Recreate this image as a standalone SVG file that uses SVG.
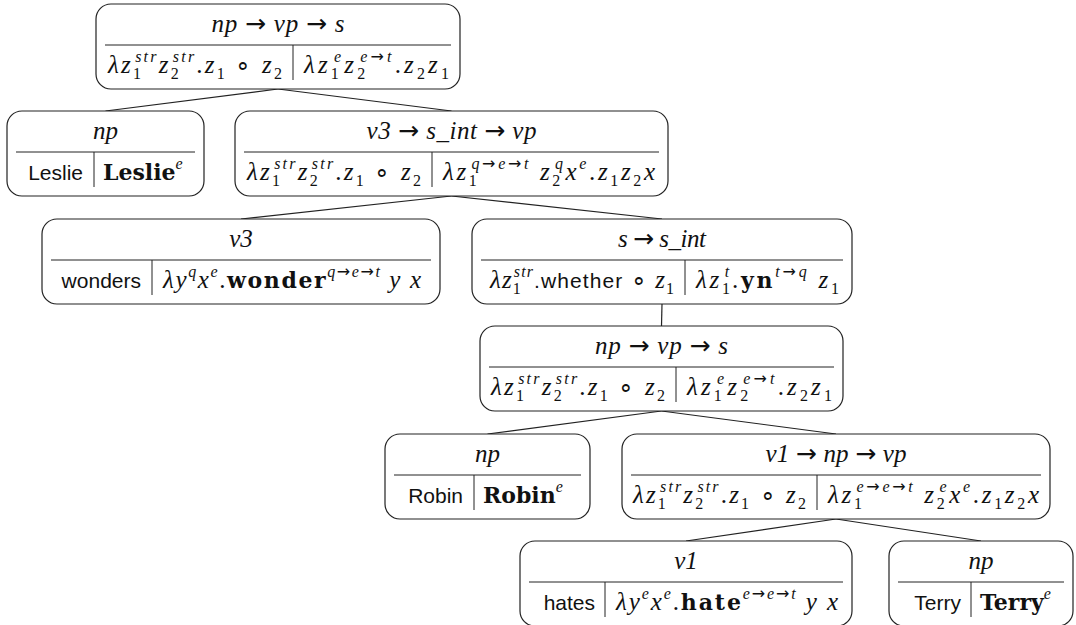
<svg xmlns="http://www.w3.org/2000/svg" width="1076" height="625" viewBox="0 0 1076 625">
<style>
text { font-family: "Liberation Serif", serif; font-size: 25px; fill: #111; }
.i { font-style: italic; }
.n { font-style: normal; }
.b { font-family: "DejaVu Serif", serif; font-weight: bold; font-style: normal; font-size: 22px; }
.sc { font-size: 16px; }
.ar { font-family: "DejaVu Sans", sans-serif; font-style: normal; }
.sf { font-family: "Liberation Sans", sans-serif; font-size: 21px; font-style: normal; }
.box { fill: #fff; stroke: #222; stroke-width: 1.2; }
.rule { stroke: #222; stroke-width: 1; }
.edge { stroke: #222; stroke-width: 1.2; fill: none; }
</style>
<rect width="1076" height="625" fill="#fff"/>
<g id="connectors">
<line class="edge" x1="278" y1="89" x2="105.5" y2="111"/>
<line class="edge" x1="278" y1="89" x2="451.5" y2="111"/>
<line class="edge" x1="451.5" y1="196" x2="241" y2="219"/>
<line class="edge" x1="451.5" y1="196" x2="662" y2="219"/>
<line class="edge" x1="662" y1="304" x2="661.5" y2="326"/>
<line class="edge" x1="661.5" y1="411" x2="487.5" y2="434"/>
<line class="edge" x1="661.5" y1="411" x2="836" y2="434"/>
<line class="edge" x1="836" y1="519" x2="686" y2="541"/>
<line class="edge" x1="836" y1="519" x2="981" y2="541"/>
</g>

<g id="root">
<rect class="box" x="96" y="4" width="364" height="85" rx="15"/>
<line class="rule" x1="105" y1="45" x2="451" y2="45"/>
<line class="rule" x1="293" y1="45" x2="293" y2="80"/>
<text x="278" y="32" text-anchor="middle" textLength="133" lengthAdjust="spacing"><tspan class="i">np</tspan> <tspan class="ar">→</tspan> <tspan class="i">vp</tspan> <tspan class="ar">→</tspan> <tspan class="i">s</tspan></text>
<text x="282" y="72.5" text-anchor="end" class="i" textLength="174" lengthAdjust="spacing">λz<tspan class="sc n" dy="6">1</tspan><tspan class="sc" dx="-8" dy="-17">str</tspan><tspan dy="11">z</tspan><tspan class="sc n" dy="6">2</tspan><tspan class="sc" dx="-8" dy="-17">str</tspan><tspan class="n" dy="11">.</tspan>z<tspan class="sc n" dy="6">1</tspan><tspan class="n" dy="-6"> ∘ </tspan>z<tspan class="sc n" dy="6">2</tspan></text>
<text x="304" y="72.5" class="i" textLength="145" lengthAdjust="spacing">λz<tspan class="sc n" dy="6">1</tspan><tspan class="sc" dx="-8" dy="-17">e</tspan><tspan dy="11">z</tspan><tspan class="sc n" dy="6">2</tspan><tspan class="sc" dx="-8" dy="-17">e<tspan class="ar">→</tspan>t</tspan><tspan class="n" dy="11">.</tspan>z<tspan class="sc n" dy="6">2</tspan><tspan dy="-6">z</tspan><tspan class="sc n" dy="6">1</tspan></text>
</g>

<g id="leslie">
<rect class="box" x="7" y="111" width="197" height="85" rx="15"/>
<line class="rule" x1="16" y1="152" x2="195" y2="152"/>
<line class="rule" x1="94" y1="152" x2="94" y2="187"/>
<text x="105.5" y="139" text-anchor="middle" class="i">np</text>
<text x="83" y="179.5" text-anchor="end" class="sf">Leslie</text>
<text x="103" y="179.5"><tspan class="b">Leslie</tspan><tspan class="sc i" dy="-11">e</tspan></text>
</g>

<g id="v3_sint_vp">
<rect class="box" x="235" y="111" width="433" height="85" rx="15"/>
<line class="rule" x1="244" y1="152" x2="659" y2="152"/>
<line class="rule" x1="432" y1="152" x2="432" y2="187"/>
<text x="451.5" y="139" text-anchor="middle" class="i" textLength="170" lengthAdjust="spacing">v3 <tspan class="ar">→</tspan> s_int <tspan class="ar">→</tspan> vp</text>
<text x="421" y="179.5" text-anchor="end" class="i" textLength="174" lengthAdjust="spacing">λz<tspan class="sc n" dy="6">1</tspan><tspan class="sc" dx="-8" dy="-17">str</tspan><tspan dy="11">z</tspan><tspan class="sc n" dy="6">2</tspan><tspan class="sc" dx="-8" dy="-17">str</tspan><tspan class="n" dy="11">.</tspan>z<tspan class="sc n" dy="6">1</tspan><tspan class="n" dy="-6"> ∘ </tspan>z<tspan class="sc n" dy="6">2</tspan></text>
<text x="443" y="179.5" class="i" textLength="212" lengthAdjust="spacing">λz<tspan class="sc n" dy="6">1</tspan><tspan class="sc" dx="-8" dy="-17">q<tspan class="ar">→</tspan>e<tspan class="ar">→</tspan>t</tspan><tspan dy="11"> z</tspan><tspan class="sc n" dy="6">2</tspan><tspan class="sc" dx="-8" dy="-17">q</tspan><tspan dy="11">x</tspan><tspan class="sc" dy="-11">e</tspan><tspan class="n" dy="11">.</tspan>z<tspan class="sc n" dy="6">1</tspan><tspan dy="-6">z</tspan><tspan class="sc n" dy="6">2</tspan><tspan dy="-6">x</tspan></text>
</g>

<g id="v3">
<rect class="box" x="42" y="219" width="398" height="85" rx="15"/>
<line class="rule" x1="51" y1="260" x2="431" y2="260"/>
<line class="rule" x1="152" y1="260" x2="152" y2="295"/>
<text x="241" y="247" text-anchor="middle" class="i">v3</text>
<text x="141" y="287.5" text-anchor="end" class="sf">wonders</text>
<text x="163" y="287.5" class="i" textLength="258" lengthAdjust="spacing">λy<tspan class="sc" dy="-11">q</tspan><tspan dy="11">x</tspan><tspan class="sc" dy="-11">e</tspan><tspan class="n" dy="11">.</tspan><tspan class="b">wonder</tspan><tspan class="sc" dy="-11">q<tspan class="ar">→</tspan>e<tspan class="ar">→</tspan>t</tspan><tspan dy="11"> y x</tspan></text>
</g>

<g id="s_sint">
<rect class="box" x="472" y="219" width="380" height="85" rx="15"/>
<line class="rule" x1="481" y1="260" x2="843" y2="260"/>
<line class="rule" x1="685" y1="260" x2="685" y2="295"/>
<text x="662" y="247" text-anchor="middle" class="i" textLength="88" lengthAdjust="spacing">s <tspan class="ar">→</tspan> s_int</text>
<text x="674" y="287.5" text-anchor="end" class="i" textLength="184" lengthAdjust="spacing">λz<tspan class="sc n" dy="6">1</tspan><tspan class="sc" dx="-8" dy="-17">str</tspan><tspan class="sf" dy="11">.whether</tspan><tspan class="n"> ∘ </tspan>z<tspan class="sc n" dy="6">1</tspan></text>
<text x="696" y="287.5" class="i" textLength="143" lengthAdjust="spacing">λz<tspan class="sc n" dy="6">1</tspan><tspan class="sc" dx="-8" dy="-17">t</tspan><tspan class="n" dy="11">.</tspan><tspan class="b">yn</tspan><tspan class="sc" dy="-11">t<tspan class="ar">→</tspan>q</tspan><tspan dy="11"> z</tspan><tspan class="sc n" dy="6">1</tspan></text>
</g>

<g id="np_vp_s_2">
<rect class="box" x="480" y="326" width="363" height="85" rx="15"/>
<line class="rule" x1="489" y1="367" x2="834" y2="367"/>
<line class="rule" x1="676" y1="367" x2="676" y2="402"/>
<text x="661.5" y="354" text-anchor="middle" textLength="133" lengthAdjust="spacing"><tspan class="i">np</tspan> <tspan class="ar">→</tspan> <tspan class="i">vp</tspan> <tspan class="ar">→</tspan> <tspan class="i">s</tspan></text>
<text x="665" y="394.5" text-anchor="end" class="i" textLength="174" lengthAdjust="spacing">λz<tspan class="sc n" dy="6">1</tspan><tspan class="sc" dx="-8" dy="-17">str</tspan><tspan dy="11">z</tspan><tspan class="sc n" dy="6">2</tspan><tspan class="sc" dx="-8" dy="-17">str</tspan><tspan class="n" dy="11">.</tspan>z<tspan class="sc n" dy="6">1</tspan><tspan class="n" dy="-6"> ∘ </tspan>z<tspan class="sc n" dy="6">2</tspan></text>
<text x="687" y="394.5" class="i" textLength="145" lengthAdjust="spacing">λz<tspan class="sc n" dy="6">1</tspan><tspan class="sc" dx="-8" dy="-17">e</tspan><tspan dy="11">z</tspan><tspan class="sc n" dy="6">2</tspan><tspan class="sc" dx="-8" dy="-17">e<tspan class="ar">→</tspan>t</tspan><tspan class="n" dy="11">.</tspan>z<tspan class="sc n" dy="6">2</tspan><tspan dy="-6">z</tspan><tspan class="sc n" dy="6">1</tspan></text>
</g>

<g id="robin">
<rect class="box" x="385" y="434" width="205" height="85" rx="15"/>
<line class="rule" x1="394" y1="475" x2="581" y2="475"/>
<line class="rule" x1="474" y1="475" x2="474" y2="510"/>
<text x="487.5" y="462" text-anchor="middle" class="i">np</text>
<text x="463" y="502.5" text-anchor="end" class="sf">Robin</text>
<text x="483" y="502.5"><tspan class="b">Robin</tspan><tspan class="sc i" dy="-11">e</tspan></text>
</g>

<g id="v1_np_vp">
<rect class="box" x="622" y="434" width="428" height="85" rx="15"/>
<line class="rule" x1="631" y1="475" x2="1041" y2="475"/>
<line class="rule" x1="817" y1="475" x2="817" y2="510"/>
<text x="836" y="462" text-anchor="middle" class="i" textLength="141" lengthAdjust="spacing">v1 <tspan class="ar">→</tspan> np <tspan class="ar">→</tspan> vp</text>
<text x="806" y="502.5" text-anchor="end" class="i" textLength="173" lengthAdjust="spacing">λz<tspan class="sc n" dy="6">1</tspan><tspan class="sc" dx="-8" dy="-17">str</tspan><tspan dy="11">z</tspan><tspan class="sc n" dy="6">2</tspan><tspan class="sc" dx="-8" dy="-17">str</tspan><tspan class="n" dy="11">.</tspan>z<tspan class="sc n" dy="6">1</tspan><tspan class="n" dy="-6"> ∘ </tspan>z<tspan class="sc n" dy="6">2</tspan></text>
<text x="828" y="502.5" class="i" textLength="211" lengthAdjust="spacing">λz<tspan class="sc n" dy="6">1</tspan><tspan class="sc" dx="-8" dy="-17">e<tspan class="ar">→</tspan>e<tspan class="ar">→</tspan>t</tspan><tspan dy="11"> z</tspan><tspan class="sc n" dy="6">2</tspan><tspan class="sc" dx="-8" dy="-17">e</tspan><tspan dy="11">x</tspan><tspan class="sc" dy="-11">e</tspan><tspan class="n" dy="11">.</tspan>z<tspan class="sc n" dy="6">1</tspan><tspan dy="-6">z</tspan><tspan class="sc n" dy="6">2</tspan><tspan dy="-6">x</tspan></text>
</g>

<g id="v1">
<rect class="box" x="520" y="541" width="332" height="85" rx="15"/>
<line class="rule" x1="529" y1="582" x2="843" y2="582"/>
<line class="rule" x1="605" y1="582" x2="605" y2="617"/>
<text x="686" y="569" text-anchor="middle" class="i">v1</text>
<text x="595" y="609.5" text-anchor="end" class="sf">hates</text>
<text x="616" y="609.5" class="i" textLength="222" lengthAdjust="spacing">λy<tspan class="sc" dy="-11">e</tspan><tspan dy="11">x</tspan><tspan class="sc" dy="-11">e</tspan><tspan class="n" dy="11">.</tspan><tspan class="b">hate</tspan><tspan class="sc" dy="-11">e<tspan class="ar">→</tspan>e<tspan class="ar">→</tspan>t</tspan><tspan dy="11"> y x</tspan></text>
</g>

<g id="terry">
<rect class="box" x="889" y="541" width="184" height="85" rx="15"/>
<line class="rule" x1="898" y1="582" x2="1064" y2="582"/>
<line class="rule" x1="971" y1="582" x2="971" y2="617"/>
<text x="981" y="569" text-anchor="middle" class="i">np</text>
<text x="961" y="609.5" text-anchor="end" class="sf">Terry</text>
<text x="980" y="609.5"><tspan class="b">Terry</tspan><tspan class="sc i" dy="-11">e</tspan></text>
</g>
</svg>
